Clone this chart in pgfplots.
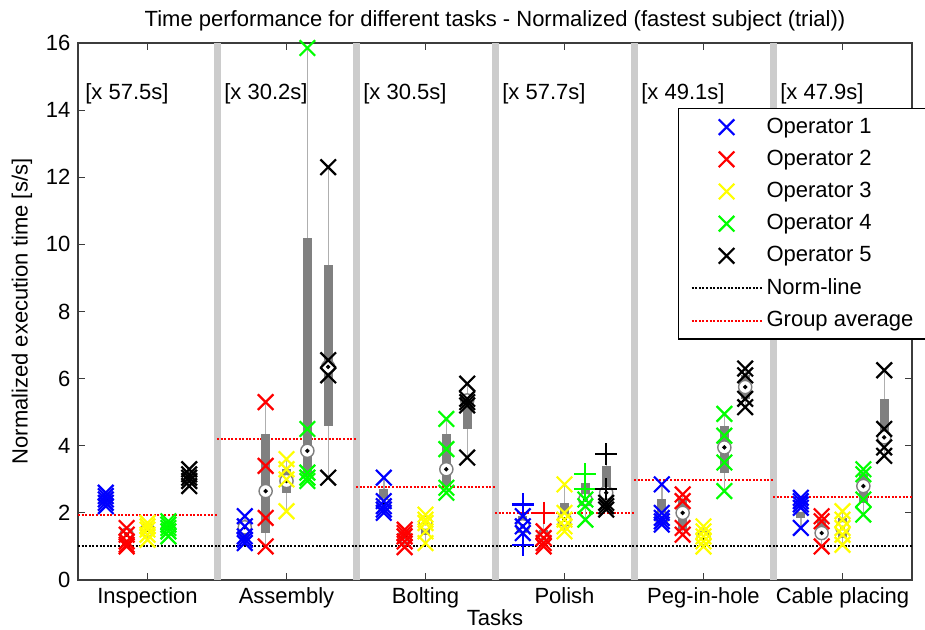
\documentclass[border=0pt]{standalone}
\usepackage{pgfplots}
\pgfplotsset{compat=1.18}
\usepackage{pgfplotstable}
\usepackage{fontspec}
\setmainfont{Liberation Sans}
\definecolor{sepgray}{RGB}{204,204,204}
\definecolor{boxgray}{RGB}{128,128,128}
\definecolor{whisk}{RGB}{175,175,175}
\definecolor{cyel}{RGB}{255,255,0}
\definecolor{cgrn}{RGB}{0,255,0}
\definecolor{axgray}{RGB}{60,60,60}

% x lo q1 med q3 hi
\pgfplotstableread{
x    lo   q1   med  q3   hi
0.70 2.20 2.25 2.40 2.55 2.60
0.85 1.00 1.05 1.35 1.40 1.55
1.00 1.20 1.35 1.50 1.60 1.70
1.15 1.30 1.45 1.55 1.65 1.75
1.30 2.80 2.95 3.05 3.15 3.30
1.70 1.10 1.20 1.57 1.70 1.90
1.85 1.00 1.40 2.65 4.35 5.30
2.00 2.05 2.60 2.95 3.30 3.60
2.15 2.95 3.10 3.85 10.20 15.85
2.30 3.05 4.60 6.35 9.40 12.30
2.70 2.00 2.15 2.25 2.70 3.05
2.85 0.98 1.20 1.30 1.45 1.50
3.00 1.10 1.35 1.70 1.75 1.95
3.15 2.60 2.80 3.30 4.35 4.80
3.30 3.65 4.50 5.35 5.45 5.85
3.70 1.05 1.40 1.60 1.90 2.25
3.85 1.00 1.10 1.25 1.50 2.00
4.00 1.45 1.60 1.80 2.30 2.85
4.15 1.80 2.20 2.40 2.90 3.15
4.30 2.10 2.20 2.60 3.40 3.75
4.70 1.65 1.80 1.85 2.40 2.85
4.85 1.35 1.50 2.00 2.40 2.55
5.00 1.00 1.15 1.25 1.45 1.60
5.15 2.65 3.20 3.95 4.60 4.95
5.30 5.15 5.40 5.75 6.10 6.30
5.70 1.55 1.85 2.20 2.35 2.45
5.85 1.00 1.30 1.40 1.80 1.90
6.00 1.05 1.25 1.55 1.85 2.05
6.15 1.95 2.30 2.80 3.15 3.30
6.30 3.70 4.10 4.25 5.40 6.25
}\boxdata

\pgfplotsset{
  opmark/.style={only marks, mark=x, mark size=5.5pt, mark options={solid, line width=1.1pt}},
}

\begin{document}
\fontsize{11}{13}\selectfont
\begin{tikzpicture}
\begin{axis}[
  scale only axis, width=417pt, height=268.5pt,
  xmin=0.5, xmax=6.5, ymin=0, ymax=16,
  xtick={1,2,3,4,5,6},
  xticklabels={Inspection,Assembly,Bolting,Polish,Peg-in-hole,Cable placing},
  ytick={0,2,4,6,8,10,12,14,16},
  tick align=inside, major tick length=3.5pt,
  axis line style={axgray, line width=0.6pt},
  every tick/.style={axgray, line width=0.6pt},
  tick label style={font=\fontsize{11}{13}\selectfont},
  /pgf/number format/assume math mode=true,
  title={Time performance for different tasks - Normalized (fastest subject (trial))},
  title style={at={(axis description cs:0.5,1.019)}, anchor=center, font=\fontsize{11}{13}\selectfont},
  xlabel={Tasks},
  xlabel style={at={(axis description cs:0.5,-0.0708)}, anchor=center, font=\fontsize{11}{13}\selectfont},
  ylabel={Normalized execution time [s/s]},
  ylabel style={at={(axis description cs:-0.0671,0.5)}, anchor=center, font=\fontsize{11}{13}\selectfont},
  legend style={at={(axis description cs:0.7194,0.8785)}, anchor=north west,
    draw=black, line width=0.6pt, fill=white, font=\fontsize{11}{13}\selectfont,
    inner xsep=6pt, inner ysep=2.5pt, /tikz/row sep=2.75pt, cells={anchor=west}},
  legend cell align=left,
  legend image code/.code={\draw[#1] (0pt,0pt) -- (35pt,0pt);},
  clip=false,
]
% legend entries
\addlegendimage{legend image code/.code={\draw[blue, line width=1.1pt] plot[mark=x, mark size=5.5pt] coordinates {(17.5pt,0pt)};}}
\addlegendentry{Operator 1}
\addlegendimage{legend image code/.code={\draw[red, line width=1.1pt] plot[mark=x, mark size=5.5pt] coordinates {(17.5pt,0pt)};}}
\addlegendentry{Operator 2}
\addlegendimage{legend image code/.code={\draw[cyel, line width=1.1pt] plot[mark=x, mark size=5.5pt] coordinates {(17.5pt,0pt)};}}
\addlegendentry{Operator 3}
\addlegendimage{legend image code/.code={\draw[cgrn, line width=1.1pt] plot[mark=x, mark size=5.5pt] coordinates {(17.5pt,0pt)};}}
\addlegendentry{Operator 4}
\addlegendimage{legend image code/.code={\draw[black, line width=1.1pt] plot[mark=x, mark size=5.5pt] coordinates {(17.5pt,0pt)};}}
\addlegendentry{Operator 5}
\addlegendimage{black, line width=1pt, dash pattern=on 1pt off 0.8pt}
\addlegendentry{Norm-line}
\addlegendimage{red, line width=1pt, dash pattern=on 1pt off 0.8pt}
\addlegendentry{Group average}

% separators
\addplot[sepgray, line width=3.5pt, unbounded coords=jump, forget plot] coordinates {
 (1.5,0) (1.5,16) (1.5,nan)
 (2.5,0) (2.5,16) (2.5,nan)
 (3.5,0) (3.5,16) (3.5,nan)
 (4.5,0) (4.5,16) (4.5,nan)
 (5.5,0) (5.5,16)
};
% norm line
\addplot[black, line width=1pt, dash pattern=on 1pt off 0.8pt, forget plot] coordinates {(0.5,1) (6.5,1)};
% group averages
\addplot[red, line width=1pt, dash pattern=on 1pt off 0.8pt, unbounded coords=jump, forget plot] coordinates {
 (0.5,1.95) (1.5,1.95) (1.5,nan)
 (1.5,4.20) (2.5,4.20) (2.5,nan)
 (2.5,2.78) (3.5,2.78) (3.5,nan)
 (3.5,1.99) (4.5,1.99) (4.5,nan)
 (4.5,2.98) (5.5,2.98) (5.5,nan)
 (5.5,2.48) (6.5,2.48)
};
% whiskers
\addplot[only marks, mark=none, forget plot,
  error bars/.cd, y dir=both, y explicit, error mark=none,
  error bar style={draw=whisk, line width=0.7pt, solid}]
  table[x=x, y=med, y error plus expr=\thisrow{hi}-\thisrow{med}, y error minus expr=\thisrow{med}-\thisrow{lo}] {\boxdata};
% boxes
\addplot[only marks, mark=none, forget plot,
  error bars/.cd, y dir=both, y explicit, error mark=none,
  error bar style={draw=boxgray, line width=4.5pt, solid}]
  table[x=x, y=med, y error plus expr=\thisrow{q3}-\thisrow{med}, y error minus expr=\thisrow{med}-\thisrow{q1}] {\boxdata};
% medians
\addplot[only marks, mark=*, mark size=3.3pt, mark options={fill=white, draw=boxgray, line width=0.7pt}, forget plot]
  table[x=x, y=med] {\boxdata};
\addplot[only marks, mark=*, mark size=0.9pt, mark options={fill=black, draw=black}, forget plot]
  table[x=x, y=med] {\boxdata};

% operator 1 (blue)
\addplot[blue, opmark, forget plot] coordinates {
 (0.7,2.2) (0.7,2.3) (0.7,2.4) (0.7,2.5) (0.7,2.6)
 (1.7,1.1) (1.7,1.2) (1.7,1.3) (1.7,1.6) (1.7,1.9)
 (2.7,2.0) (2.7,2.1) (2.7,2.2) (2.7,2.35) (2.7,3.05)
 (3.7,1.9) (3.7,1.6) (3.7,1.4)
 (4.7,1.65) (4.7,1.75) (4.7,1.85) (4.7,2.0) (4.7,2.85)
 (5.7,1.55) (5.7,2.15) (5.7,2.25) (5.7,2.35) (5.7,2.45)
};
\addplot[blue, opmark, mark=+, forget plot] coordinates {(3.7,2.25) (3.7,1.05)};
% operator 2 (red)
\addplot[red, opmark, forget plot] coordinates {
 (0.85,1.0) (0.85,1.05) (0.85,1.15) (0.85,1.35) (0.85,1.55)
 (1.85,1.0) (1.85,1.85) (1.85,3.4) (1.85,5.3)
 (2.85,0.98) (2.85,1.15) (2.85,1.3) (2.85,1.4) (2.85,1.5)
 (3.85,1.0) (3.85,1.1) (3.85,1.25) (3.85,1.45)
 (4.85,1.35) (4.85,1.55) (4.85,2.35) (4.85,2.55)
 (5.85,1.0) (5.85,1.75) (5.85,1.9)
};
\addplot[red, opmark, mark=+, forget plot] coordinates {(3.85,2.0)};
% operator 3 (yellow)
\addplot[cyel, opmark, forget plot] coordinates {
 (1,1.2) (1,1.35) (1,1.5) (1,1.6) (1,1.7)
 (2,2.05) (2,3.0) (2,3.3) (2,3.6)
 (3,1.1) (3,1.45) (3,1.7) (3,1.8) (3,1.95)
 (4,2.85) (4,2.0) (4,1.8) (4,1.6) (4,1.45)
 (5,1.0) (5,1.15) (5,1.3) (5,1.45) (5,1.6)
 (6,1.05) (6,1.35) (6,1.55) (6,1.8) (6,2.05)
};
% operator 4 (green)
\addplot[cgrn, opmark, forget plot] coordinates {
 (1.15,1.3) (1.15,1.45) (1.15,1.55) (1.15,1.65) (1.15,1.75)
 (2.15,2.95) (2.15,3.05) (2.15,3.2) (2.15,4.5) (2.15,15.85)
 (3.15,2.6) (3.15,2.75) (3.15,3.9) (3.15,4.8)
 (4.15,2.4) (4.15,2.2) (4.15,1.8)
 (5.15,2.65) (5.15,3.5) (5.15,4.3) (5.15,4.95)
 (6.15,1.95) (6.15,2.4) (6.15,3.15) (6.15,3.3)
};
\addplot[cgrn, opmark, mark=+, forget plot] coordinates {(4.15,3.15) (4.15,2.7)};
% operator 5 (black)
\addplot[black, opmark, forget plot] coordinates {
 (1.3,2.8) (1.3,2.95) (1.3,3.05) (1.3,3.15) (1.3,3.3)
 (2.3,3.05) (2.3,6.1) (2.3,6.55) (2.3,12.3)
 (3.3,3.65) (3.3,5.2) (3.3,5.3) (3.3,5.4) (3.3,5.85)
 (4.3,2.3) (4.3,2.2) (4.3,2.1)
 (5.3,5.15) (5.3,5.4) (5.3,6.1) (5.3,6.3)
 (6.3,3.7) (6.3,3.95) (6.3,4.5) (6.3,6.25)
};
\addplot[black, opmark, mark=+, forget plot] coordinates {(4.3,3.75) (4.3,2.7)};

% scale labels
\node[anchor=west, inner sep=0pt] at (axis cs:0.55,14.5) {[x 57.5s]};
\node[anchor=west, inner sep=0pt] at (axis cs:1.55,14.5) {[x 30.2s]};
\node[anchor=west, inner sep=0pt] at (axis cs:2.55,14.5) {[x 30.5s]};
\node[anchor=west, inner sep=0pt] at (axis cs:3.55,14.5) {[x 57.7s]};
\node[anchor=west, inner sep=0pt] at (axis cs:4.55,14.5) {[x 49.1s]};
\node[anchor=west, inner sep=0pt] at (axis cs:5.55,14.5) {[x 47.9s]};
\end{axis}
\pgfresetboundingbox
\useasboundingbox (-39pt,-24.5pt) rectangle (423.5pt,290pt);
\end{tikzpicture}
\end{document}
